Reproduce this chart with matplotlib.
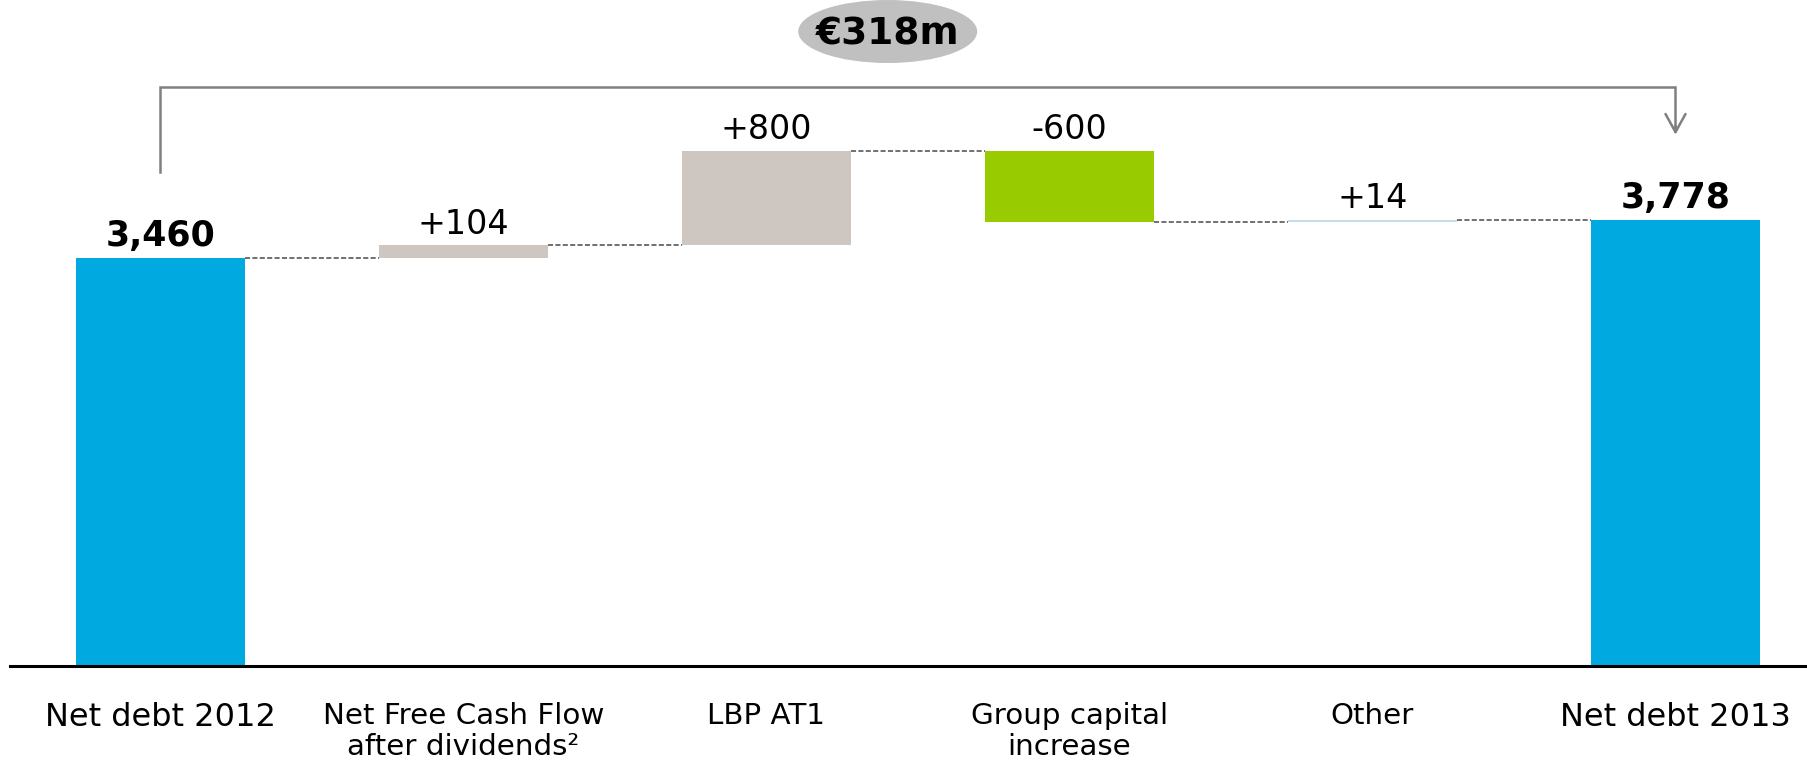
import matplotlib
matplotlib.use("Agg")
import matplotlib.pyplot as plt
import numpy as np
from matplotlib.patches import Ellipse

# ---- data ----
CATEGORIES = ["Net debt 2012", "Net Free Cash Flow\nafter dividends\u00b2",
              "LBP AT1", "Group capital\nincrease", "Other", "Net debt 2013"]
START = 3460
CHANGES = [104, 800, -600, 14]
END = 3778
VALUE_LABELS = ["3,460", "+104", "+800", "-600", "+14", "3,778"]
TOTAL_CHANGE = "\u20ac318m"

BAR_COLORS = ["#00A9E0", "#CEC6C0", "#CEC6C0", "#99CC00", "#BFDFEA", "#00A9E0"]
GREY = "#808080"

# ---- layout (figure is 1808x763 px at dpi 100) ----
W, H = 1808, 763
PX_PER_UNIT = 0.118
AX_LEFT, AX_BOTTOM = 10, 97           # px
BAR_W = 0.561
X0_PX, STEP_PX = 160.5, 303           # first bar centre / bar pitch


def main():
    n = len(CATEGORIES)
    x = np.arange(n)
    run = np.cumsum([START] + CHANGES)            # level after each step
    bottoms = np.concatenate([[0], np.minimum(run[:-1], run[1:]), [0]])
    heights = np.concatenate([[START], np.abs(CHANGES), [END]])
    tops = bottoms + heights
    levels = np.concatenate([run, [END]])         # connector level per bar

    fig = plt.figure(figsize=(W / 100, H / 100), dpi=100)
    ax = fig.add_axes([AX_LEFT / W, AX_BOTTOM / H, 1 - AX_LEFT / W,
                       (H - AX_BOTTOM) / H])
    ax.set_xlim((AX_LEFT - X0_PX) / STEP_PX, (W - X0_PX) / STEP_PX)
    ax.set_ylim(0, (H - AX_BOTTOM) / PX_PER_UNIT)

    ax.bar(x, heights, bottom=bottoms, width=BAR_W, color=BAR_COLORS,
           linewidth=0, zorder=2)

    # dashed connectors between bars
    for i in range(n - 1):
        ax.plot([x[i] + BAR_W / 2, x[i + 1] - BAR_W / 2], [levels[i]] * 2,
                color="#707070", lw=1.4, dashes=(2.6, 1.2), zorder=1)

    # value labels
    for i, lab in enumerate(VALUE_LABELS):
        total = i in (0, n - 1)
        ax.annotate(lab, (x[i], tops[i]), xytext=(0, 8.5),
                    textcoords="offset points", ha="center", va="baseline",
                    fontsize=25 if total else 24,
                    fontweight="bold" if total else "normal")

    # bracket with arrow from start to end total
    top_y = 4907
    ax.plot([x[0], x[0], x[-1], x[-1]], [START + 726, top_y, top_y, END + 760],
            color=GREY, lw=1.8, solid_joinstyle="miter", clip_on=False)
    ax.annotate("", xy=(x[-1], END + 725), xytext=(x[-1], END + 800),
                arrowprops=dict(arrowstyle="->,head_length=0.65,head_width=0.36",
                                color=GREY, lw=1.8, mutation_scale=20,
                                shrinkA=0, shrinkB=0))

    # total change bubble
    cx, cy = 2.4, 5377
    ax.add_patch(Ellipse((cx, cy), 179 / STEP_PX, 63 / PX_PER_UNIT,
                         facecolor="#C0C0C0", edgecolor="none", clip_on=False))
    ax.text(cx, cy - 3 / PX_PER_UNIT, TOTAL_CHANGE, ha="center", va="center",
            fontsize=27, fontweight="bold")

    # axis
    for s in ("top", "left", "right"):
        ax.spines[s].set_visible(False)
    ax.spines["bottom"].set_linewidth(2.2)
    ax.set_yticks([])
    ax.set_xticks(x)
    ax.set_xticklabels(CATEGORIES, fontsize=21.2, linespacing=1.15)
    for i in (0, n - 1):
        ax.get_xticklabels()[i].set_fontsize(23)
    ax.tick_params(axis="x", length=0, pad=26)

    fig.savefig("out.png", dpi=100)


if __name__ == "__main__":
    main()
